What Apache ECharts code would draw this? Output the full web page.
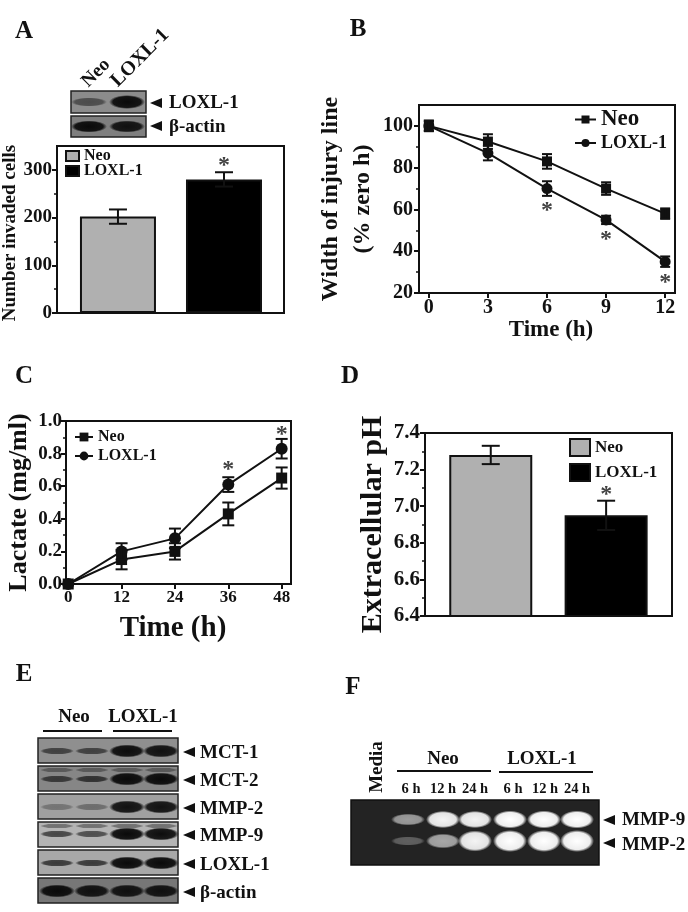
<!DOCTYPE html>
<html><head><meta charset="utf-8">
<style>html,body{margin:0;padding:0;background:#fff}#c{width:688px;height:912px}</style>
<script src="https://cdn.jsdelivr.net/npm/echarts@6/dist/echarts.min.js"></script>
</head><body><div id="c"></div>
<script>
// ---- data ----
const groupNames = ['Neo', 'LOXL-1'];
const invaded = [202, 280];
const invadedErr = [15, 15];
const injuryHours = [0, 3, 6, 9, 12];
const injuryNeo = [100, 92.5, 83, 70, 58];
const injuryNeoErr = [2.5, 3.5, 3.5, 3, 2.5];
const injuryLoxl = [100, 87, 70, 55, 35];
const injuryLoxlErr = [2.5, 3.5, 3.5, 2, 2.5];
const lactateHours = [0, 12, 24, 36, 48];
const lactateNeo = [0, 0.15, 0.20, 0.43, 0.65];
const lactateNeoErr = [0, 0.06, 0.05, 0.07, 0.065];
const lactateLoxl = [0, 0.20, 0.28, 0.61, 0.83];
const lactateLoxlErr = [0, 0.05, 0.06, 0.045, 0.06];
const phValues = [7.28, 6.95];
const phErr = [0.05, 0.08];
const blotERows = ['MCT-1', 'MCT-2', 'MMP-2', 'MMP-9', 'LOXL-1', 'β-actin'];
const blotEDark = [[.6,.6,.98,.95],[.65,.7,1,1],[.3,.35,.95,.95],[.65,.6,1,.98],[.7,.7,1,1],[1,.95,.95,.95]];
const blotARows = ['LOXL-1', 'β-actin'];
const blotADark = [[.5,1],[1,.95]];
const zymoLanes = ['6 h', '12 h', '24 h', '6 h', '12 h', '24 h'];
const zymoMMP9 = [.55,.95,.95,1,1,1];
const zymoMMP2 = [.28,.6,.95,1,1,1];

// ---- helpers ----
const FAMILY = '"Liberation Serif"';
const font = px => `bold ${px}px ${FAMILY}`;
const INK = '#111';
const tf = (px, extra) => Object.assign({fontFamily: FAMILY, fontWeight: 'bold', fontSize: px, color: INK}, extra || {});
function errorSeries(name, xs, ys, errs, idx, capPx) {
  return {
    name, type: 'custom', xAxisIndex: idx, yAxisIndex: idx, silent: true, z: 6,
    data: xs.map((x, i) => [x, ys[i], errs[i]]),
    encode: {x: 0, y: 1},
    renderItem(p, api) {
      const x = api.value(0), y = api.value(1), e = api.value(2);
      const top = api.coord([x, y + e]), bot = api.coord([x, y - e]);
      const st = {stroke: INK, lineWidth: 2, fill: null};
      const line = (a, b, c, d) => ({type: 'line', shape: {x1: a, y1: b, x2: c, y2: d}, style: st});
      return {type: 'group', children: [
        line(top[0], top[1], bot[0], bot[1]),
        line(top[0] - capPx, top[1], top[0] + capPx, top[1]),
        line(bot[0] - capPx, bot[1], bot[0] + capPx, bot[1])
      ]};
    }
  };
}
function starSeries(idx, pts, px) {
  return {type: 'scatter', xAxisIndex: idx, yAxisIndex: idx, data: pts, symbolSize: 1, silent: true, z: 8,
    itemStyle: {color: 'transparent'},
    label: Object.assign({show: true, position: 'inside', formatter: '*'}, tf(px))};
}
function lineSeries(name, xs, ys, idx, sym, size) {
  return {name, type: 'line', xAxisIndex: idx, yAxisIndex: idx, data: xs.map((x, i) => [x, ys[i]]),
    symbol: sym, symbolSize: size, showSymbol: true, z: 5,
    lineStyle: {color: INK, width: 2}, itemStyle: {color: INK}};
}
function barSeries(name, x, y, idx, color, w) {
  return {name, type: 'bar', xAxisIndex: idx, yAxisIndex: idx, data: [[x, y]], barWidth: w, barGap: '-100%', z: 3,
    itemStyle: {color, borderColor: INK, borderWidth: 2}};
}
function yAxis(grid, min, max, interval, ticks, px, margin, name, nameGap, namePx, fmt, nameExtra) {
  return {type: 'value', gridIndex: grid, min, max, interval,
    name, nameLocation: 'middle', nameGap, nameTextStyle: tf(namePx, nameExtra),
    axisLine: {show: true, onZero: false, lineStyle: {color: INK, width: 2}},
    axisTick: {show: true, length: 5, customValues: ticks, lineStyle: {color: INK, width: 2}},
    minorTick: {show: true, splitNumber: 2, length: 3, lineStyle: {color: INK, width: 1.5}},
    axisLabel: tf(px, {margin, customValues: ticks, formatter: fmt}),
    splitLine: {show: false}};
}
function xAxisData(grid, min, max, ticks, px, margin, name, nameGap, namePx, nameExtra) {
  return {type: 'value', gridIndex: grid, min, max,
    name, nameLocation: 'middle', nameGap, nameTextStyle: tf(namePx, nameExtra),
    axisLine: {show: true, onZero: false, lineStyle: {color: INK, width: 2}},
    axisTick: {show: true, length: 5, customValues: ticks, lineStyle: {color: INK, width: 2}},
    minorTick: {show: false},
    axisLabel: tf(px, {margin, customValues: ticks}),
    splitLine: {show: false}};
}
function xAxisHidden(grid, min, max) {
  return {type: 'value', gridIndex: grid, min, max,
    axisLine: {show: true, onZero: false, lineStyle: {color: INK, width: 2}},
    axisTick: {show: false}, axisLabel: {show: false}, splitLine: {show: false}};
}
const boxGrid = (left, top, width, height) => ({left, top, width, height, show: true, borderColor: INK, borderWidth: 2, backgroundColor: '#fff', containLabel: false, outerBoundsMode: 'none'});
const strip = n => n.split('|')[1];

// ---- graphic (panel letters and gel images) ----
const g = [];
function text(t, x, y, px, o) {
  o = o || {};
  g.push({type: 'text', x, y, rotation: o.rot || 0, z: 20, style: {text: t, font: font(px), fill: INK, align: o.align || 'center', verticalAlign: 'middle'}});
}
function arrow(x, y) {
  g.push({type: 'polygon', z: 20, shape: {points: [[x, y], [x + 12, y - 5], [x + 12, y + 5]]}, style: {fill: INK}});
}
function rule(x1, x2, y) {
  g.push({type: 'line', z: 20, shape: {x1, y1: y, x2, y2: y}, style: {stroke: INK, lineWidth: 2}});
}
function band(cx, cy, rx, ry, rgb, a) {
  g.push({type: 'circle', z: 12, x: cx, y: cy, scaleX: rx / 10, scaleY: ry / 10, shape: {cx: 0, cy: 0, r: 10},
    style: {fill: new echarts.graphic.RadialGradient(.5, .5, .5, [
      {offset: 0, color: `rgba(${rgb},${a})`}, {offset: .78, color: `rgba(${rgb},${a * .92})`}, {offset: 1, color: `rgba(${rgb},0)`}])}});
}
function panel(x, y, w, h, bg, stroke) {
  g.push({type: 'rect', z: 11, shape: {x, y, width: w, height: h}, style: {fill: bg, stroke: stroke || '#222', lineWidth: 1.5}});
}
[['A',24,32],['B',358,30],['C',24,377],['D',350,377],['E',24,675],['F',353,688]].forEach(d => text(d[0], d[1], d[2], 25));

// A blot
text(groupNames[0], 96, 73, 19, {rot: Math.PI / 4});
text(groupNames[1], 140, 58, 20, {rot: Math.PI / 4});
panel(71, 91, 75, 22, '#8c8c8c'); panel(71, 116, 75, 21, '#7f7f7f');
[[0, 102], [1, 126.5]].forEach(([r, cy]) => {
  [89, 127].forEach((cx, i) => band(cx, cy, 18, r ? 6 : 2 + 5 * blotADark[r][i], '10,10,10', blotADark[r][i]));
  arrow(150, r ? 126 : 103); text(blotARows[r], 169, r ? 127 : 103, 19, {align: 'left'});
});

// E blot
text(groupNames[0], 74, 717, 19); text(groupNames[1], 143, 717, 19);
rule(43, 102, 731); rule(113, 172, 731);
const eTops = [738, 766, 794, 822, 850, 878];
const eBg = ['#8f8f8f', '#868686', '#a0a0a0', '#b4b4b4', '#a8a8a8', '#777'];
const eLanes = [57, 92, 127, 161];
blotERows.forEach((name, r) => {
  panel(38, eTops[r], 140, 25, eBg[r]);
  const cy = eTops[r] + (r === 3 ? 12 : 13);
  eLanes.forEach((cx, i) => {
    if (r === 1 || r === 3) band(cx, eTops[r] + 4, 17, 2.5, '30,30,30', .45);
    const strong = i > 1 || r === 5;
    band(cx, cy, strong ? 18 : 17, strong ? 6.5 : 3.5, '10,10,10', blotEDark[r][i]);
  });
  arrow(183, cy + 1); text(name, 200, cy + 2, 19, {align: 'left'});
});

// F zymogram
text('Media', 377, 767, 19, {rot: Math.PI / 2});
text(groupNames[0], 443, 759, 19); text(groupNames[1], 542, 759, 19);
rule(397, 491, 771); rule(499, 593, 772);
const fLanes = [408, 443, 475, 510, 544, 577];
const fLabel = [411, 443, 475, 513, 545, 577];
zymoLanes.forEach((t, i) => text(t, fLabel[i], 789, 14.5));
panel(351, 800, 248, 65, '#232323', '#111');
fLanes.forEach((cx, i) => {
  band(cx, 819.5, 17, 2 + 7 * zymoMMP9[i], '255,255,255', zymoMMP9[i]);
  band(cx, 841, 17, 2 + 9 * zymoMMP2[i], '255,255,255', zymoMMP2[i]);
});
arrow(603, 820); text('MMP-9', 622, 820, 19, {align: 'left'});
arrow(603, 843); text('MMP-2', 622, 845, 19, {align: 'left'});

// ---- option ----
const legendBase = {orient: 'vertical', padding: 0, selectedMode: false, formatter: strip};
const option = {
  animation: false,
  backgroundColor: '#fff',
  grid: [boxGrid(57, 146, 227, 167), boxGrid(419, 105, 256, 188), boxGrid(66, 421, 225, 163), boxGrid(425, 433, 247, 183)],
  xAxis: [
    xAxisHidden(0, 0.425, 2.566),
    xAxisData(1, -0.5, 12.5, injuryHours, 20, 5, 'Time (h)', 21, 23, {padding: [0, 0, 0, 8]}),
    xAxisData(2, -0.5, 50.1, lactateHours, 17, 5, 'Time (h)', 30, 29, {padding: [0, 11, 0, 0]}),
    xAxisHidden(3, 0.43, 2.571)
  ],
  yAxis: [
    yAxis(0, 0, 350, 100, [0, 100, 200, 300], 19, 5, 'Number invaded cells', 30, 19, undefined, {padding: [0, 7, 0, 0]}),
    yAxis(1, 20, 110, 20, [20, 40, 60, 80, 100], 20, 6, 'Width of injury line\n(% zero h)', 31, 24, undefined, {lineHeight: 32}),
    yAxis(2, 0, 1, 0.2, [0, .2, .4, .6, .8, 1], 19, 4, 'Lactate (mg/ml)', 34, 26, v => v.toFixed(1)),
    yAxis(3, 6.4, 7.4, 0.2, [6.4, 6.6, 6.8, 7, 7.2, 7.4], 21, 5, 'Extracellular pH', 37, 30, v => v.toFixed(1))
  ],
  legend: [
    Object.assign({left: 65, top: 148, itemWidth: 13, itemHeight: 10, itemGap: -1, icon: 'rect',
      textStyle: tf(16), data: ['A|Neo', 'A|LOXL-1']}, legendBase),
    Object.assign({left: 574, top: 108, itemWidth: 21, itemHeight: 10, itemGap: 3, textStyle: tf(18),
      data: [{name: 'B|Neo', textStyle: tf(23)}, {name: 'B|LOXL-1', textStyle: tf(18)}]}, legendBase),
    Object.assign({left: 74, top: 429, itemWidth: 18, itemHeight: 11, itemGap: 3,
      textStyle: tf(16), data: ['C|Neo', 'C|LOXL-1']}, legendBase),
    Object.assign({left: 569, top: 438, itemWidth: 20, itemHeight: 17, itemGap: 6, icon: 'rect',
      textStyle: tf(17), data: ['D|Neo', 'D|LOXL-1']}, legendBase)
  ],
  series: [
    barSeries('A|Neo', 1, invaded[0], 0, '#b0b0b0', 76),
    barSeries('A|LOXL-1', 2, invaded[1], 0, '#000', 76),
    errorSeries('errA', [1, 2], invaded, invadedErr, 0, 9),
    starSeries(0, [[2, 309]], 24),

    lineSeries('B|Neo', injuryHours, injuryNeo, 1, 'rect', 10),
    lineSeries('B|LOXL-1', injuryHours, injuryLoxl, 1, 'circle', 11),
    errorSeries('errB1', injuryHours, injuryNeo, injuryNeoErr, 1, 5),
    errorSeries('errB2', injuryHours, injuryLoxl, injuryLoxlErr, 1, 5),
    starSeries(1, [[6, 59.5], [9, 45.5], [12, 25]], 24),

    lineSeries('C|Neo', lactateHours, lactateNeo, 2, 'rect', 11),
    lineSeries('C|LOXL-1', lactateHours, lactateLoxl, 2, 'circle', 12),
    errorSeries('errC1', lactateHours, lactateNeo, lactateNeoErr, 2, 6),
    errorSeries('errC2', lactateHours, lactateLoxl, lactateLoxlErr, 2, 6),
    starSeries(2, [[36, .70], [48, .915]], 24),

    barSeries('D|Neo', 1, phValues[0], 3, '#b0b0b0', 83),
    barSeries('D|LOXL-1', 2, phValues[1], 3, '#000', 83),
    errorSeries('errD', [1, 2], phValues, phErr, 3, 9),
    starSeries(3, [[2, 7.06]], 24)
  ],
  graphic: {elements: g}
};
const chart = echarts.init(document.getElementById('c'), null, {renderer: 'canvas'});
chart.setOption(option);
</script></body></html>
